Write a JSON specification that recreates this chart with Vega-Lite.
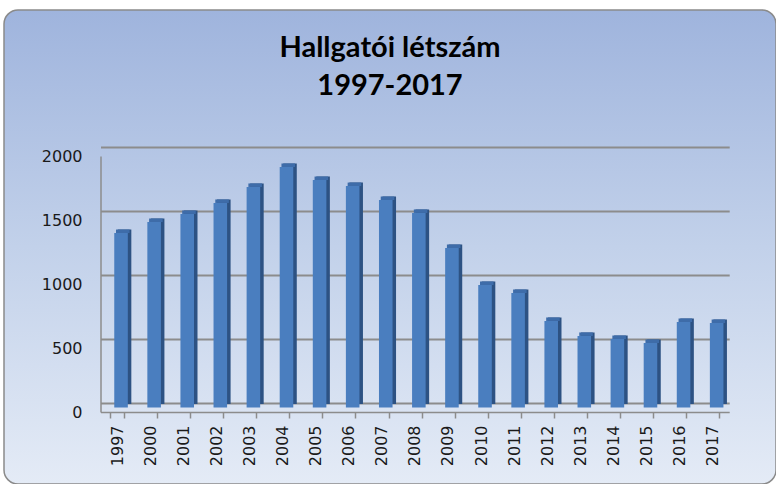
{
  "$schema": "https://vega.github.io/schema/vega-lite/v6.json",
  "autosize": {"type": "none"},
  "padding": {"left": 4, "top": 10, "right": 0, "bottom": 0},
  "width": 772,
  "height": 474,
  "background": "white",
  "config": {
    "view": {
      "cornerRadius": 14,
      "stroke": "#8a8a8a",
      "strokeWidth": 1.5,
      "fill": {
        "gradient": "linear",
        "x1": 0, "y1": 0, "x2": 0, "y2": 1,
        "stops": [
          {"offset": 0, "color": "#9fb4dd"},
          {"offset": 0.5, "color": "#c2d1ea"},
          {"offset": 1, "color": "#e4ebf6"}
        ]
      }
    }
  },
  "title": {
    "text": ["Hallgatói létszám", "1997-2017"],
    "font": "Lato",
    "fontWeight": "bold",
    "fontSize": 29,
    "color": "#000000",
    "lineHeight": 38,
    "anchor": "middle",
    "baseline": "top",
    "offset": -91
  },
  "data": {
    "values": [
      {"year": "1997", "n": 1363},
      {"year": "2000", "n": 1449},
      {"year": "2001", "n": 1512},
      {"year": "2002", "n": 1598},
      {"year": "2003", "n": 1723},
      {"year": "2004", "n": 1879},
      {"year": "2005", "n": 1777},
      {"year": "2006", "n": 1730},
      {"year": "2007", "n": 1621},
      {"year": "2008", "n": 1520},
      {"year": "2009", "n": 1246},
      {"year": "2010", "n": 957},
      {"year": "2011", "n": 895},
      {"year": "2012", "n": 676},
      {"year": "2013", "n": 559},
      {"year": "2014", "n": 535},
      {"year": "2015", "n": 504},
      {"year": "2016", "n": 668},
      {"year": "2017", "n": 660}
    ]
  },
  "encoding": {
    "x": {
      "field": "year",
      "type": "ordinal",
      "scale": {"range": [96.5, 725.2], "paddingInner": 0.59, "paddingOuter": 0.295},
      "axis": {
        "title": null,
        "orient": "bottom",
        "offset": -72,
        "domainColor": "#8c8c8c",
        "domainWidth": 1.5,
        "tickColor": "#8c8c8c",
        "tickWidth": 1.5,
        "tickSize": 6,
        "tickBand": "extent",
        "labelAngle": -90,
        "labelAlign": "right",
        "labelBaseline": "middle",
        "labelPadding": 7,
        "labelFont": "DejaVu Sans",
        "labelFontSize": 16,
        "labelColor": "#1a1a1a"
      }
    },
    "y": {
      "field": "n",
      "type": "quantitative",
      "scale": {"domain": [0, 2000], "range": [402, 146]},
      "axis": {
        "title": null,
        "values": [0, 500, 1000, 1500, 2000],
        "format": "d",
        "grid": true,
        "gridColor": "#8c8c8c",
        "gridWidth": 2,
        "tickOffset": -9,
        "labelOffset": 9,
        "ticks": false,
        "tickSize": 0,
        "domain": true,
        "domainColor": "#8c8c8c",
        "domainWidth": 1.5,
        "offset": -96.5,
        "labelPadding": 18.5,
        "labelFont": "DejaVu Sans",
        "labelFontSize": 16,
        "labelColor": "#1a1a1a"
      }
    }
  },
  "layer": [
    {
      "mark": {"type": "bar", "color": "#2d5283", "xOffset": 7.5, "yOffset": -8, "y2Offset": -8},
      "encoding": {"y2": {"datum": 0}}
    },
    {
      "mark": {"type": "bar", "color": "#3e6ca9", "xOffset": 5.75, "yOffset": -8, "y2Offset": -4.5},
      "encoding": {"y2": {"field": "n"}}
    },
    {
      "mark": {"type": "bar", "color": "#4a7ebf", "xOffset": 4, "yOffset": -4.5, "y2Offset": -4.5},
      "encoding": {"y2": {"datum": 0}}
    }
  ]
}
